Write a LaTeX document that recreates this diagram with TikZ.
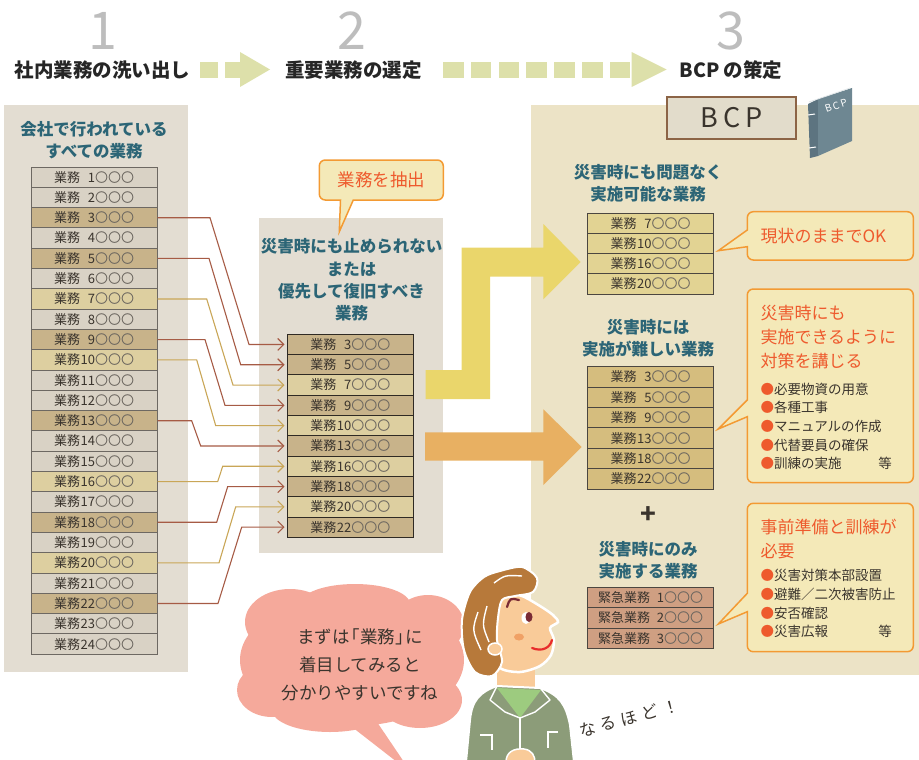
\documentclass[tikz,border=0pt]{standalone}
\usepackage{fontspec}
\setmainfont{Noto Sans CJK JP}
\usetikzlibrary{arrows.meta}

\definecolor{panelgray}{HTML}{E3DDD2}
\definecolor{panelcream}{HTML}{ECE3C6}
\definecolor{rowgray}{HTML}{D9D2C5}
\definecolor{rowtan}{HTML}{C8B38A}
\definecolor{rowyellow}{HTML}{DDCFA0}
\definecolor{okfill}{HTML}{E2D393}
\definecolor{hardfill}{HTML}{D5BD7E}
\definecolor{urgentfill}{HTML}{CF9F82}
\definecolor{rowline}{HTML}{6D6862}
\definecolor{rowdark}{HTML}{2F2A24}
\definecolor{rowmid}{HTML}{4B4640}
\definecolor{rowtext}{HTML}{3A342D}
\definecolor{circgray}{HTML}{6A655E}
\definecolor{titleteal}{HTML}{2C6576}
\definecolor{noteline}{HTML}{F39A33}
\definecolor{notefill}{HTML}{F4E9B8}
\definecolor{notetext}{HTML}{EE5A2D}
\definecolor{bigyellow}{HTML}{EAD66B}
\definecolor{bigorange}{HTML}{E8B062}
\definecolor{hdarrow}{HTML}{DDE0AA}
\definecolor{numgray}{HTML}{BDBDBD}
\definecolor{linkred}{HTML}{A65B45}
\definecolor{linkyel}{HTML}{C9A657}
\definecolor{bubble}{HTML}{F5A99B}
\definecolor{bcpfill}{HTML}{E2DCCB}
\definecolor{bcpline}{HTML}{8C6446}
\definecolor{bookfront}{HTML}{6E8792}
\definecolor{bookside}{HTML}{5D7480}
\definecolor{hair}{HTML}{B7793A}
\definecolor{skin}{HTML}{F9CB99}
\definecolor{shirt}{HTML}{8C9C79}
\definecolor{collar}{HTML}{9DCB7F}
\definecolor{eyebrown}{HTML}{7A2B35}
\definecolor{cheek}{HTML}{F0A166}
\definecolor{mouthred}{HTML}{E82B2B}

\newcommand{\fsz}[2]{\fontsize{#1}{#2}\selectfont}
\newcommand{\gyomu}[1]{業務\makebox[15pt][r]{#1}\textcolor{circgray}{〇〇〇}}
\newcommand{\kinkyu}[1]{緊急業務\makebox[14pt][r]{#1}\textcolor{circgray}{〇〇〇}}
\newcommand{\bul}{\textcolor{notetext}{●}}

\begin{document}
\begin{tikzpicture}[x=1pt,y=-1pt,
  row/.style={draw=rowline, line width=1pt, minimum width=126pt, minimum height=20.3pt,
    inner sep=0pt, text=rowtext, font=\fsz{13}{13}},
  plain/.style={row, fill=rowgray},
  hard/.style={row, fill=rowtan},
  easy/.style={row, fill=rowyellow},
  head/.style={font=\fsz{16.5}{22.3}\bfseries, text=titleteal, align=center},
  stage/.style={font=\fsz{19.5}{20}\bfseries, text=black!85},
  num/.style={font=\fsz{52}{52}, text=numgray},
  link/.style={line width=1.1pt, -{Straight Barb[length=6pt,width=12pt]}, shorten >=2.3pt},
  callout/.style={fill=notefill, draw=noteline, line width=1.5pt},
  note/.style={font=\fsz{17}{24}, text=notetext, align=left, anchor=west},
  item/.style={font=\fsz{13.5}{18.6}, text=rowtext, align=left, anchor=west}
]
\useasboundingbox (0,0) rectangle (919,760);

% panels
\fill[panelgray] (4,105) rectangle (188,672);
\fill[panelgray] (259,218.3) rectangle (443.3,553.3);
\fill[panelcream] (530.7,105) rectangle (919,675);

% steps along the top
\node[num] (n1) at (103,31) {1};
\node[num] (n2) at (352,31) {2};
\node[num] (n3) at (731,31) {3};
\node[stage] (st1) at (102.5,70) {社内業務の洗い出し};
\node[stage] (st2) at (353.5,70) {重要業務の選定};
\node[stage] (st3) at (731,70) {BCP の策定};
\foreach \x in {200,225}
  \fill[hdarrow] (\x,62) rectangle ++(18,16);
\fill[hdarrow] (240,52) -- (270,69.5) -- (240,87) -- cycle;
\foreach \i in {0,...,6}
  \fill[hdarrow] ({443+27.8*\i},62) rectangle ++(20.5,16);
\fill[hdarrow] (631.7,52) -- (666.7,69.5) -- (631.7,87) -- cycle;

% all tasks
\node[head] (allt) at (94,140) {会社で行われている\\すべての業務};
\foreach \n/\k in {1/plain,2/plain,3/hard,4/plain,5/hard,6/plain,7/easy,8/plain,
    9/hard,10/easy,11/plain,12/plain,13/hard,14/plain,15/plain,16/easy,17/plain,
    18/hard,19/plain,20/easy,21/plain,22/hard,23/plain,24/plain}
  \node[\k] (w\n) at (94,{177.15+20.3*(\n-1)}) {\gyomu{\n}};

% selected tasks
\node[head] (selt) at (351.5,280) {災害時にも止められない\\または\\優先して復旧すべき\\業務};
\foreach \n/\k [count=\i from 0] in {3/hard,5/hard,7/easy,9/hard,10/easy,13/hard,
    16/easy,18/hard,20/easy,22/hard}
  \node[\k, draw=rowdark] (s\n) at (350.3,{344.45+20.3*\i}) {\gyomu{\n}};

\foreach \n/\a/\b/\c in {3/210/249/linkred, 5/209/240.7/linkred, 7/206.7/233/linkyel,
    9/205/225/linkred, 10/196.7/215.7/linkyel, 13/191.7/200.7/linkred,
    16/217.7/222.7/linkyel, 18/216.7/227.7/linkred, 20/219/235.7/linkyel,
    22/218/241.7/linkred}
  \draw[link,\c] (w\n.east) -- (w\n.east -| \a,0) -- (s\n.west -| \b,0) -- (s\n.west);

% callout: pick out
\filldraw[callout] (353.3,200) -- (339.3,231.7) -- (340.5,200)
  {[rounded corners=6pt] -- (319.3,200) -- (319.3,160) -- (443.3,160) -- (443.3,200)} -- cycle;
\node[font=\fsz{17.5}{18}, text=notetext] (pick) at (381.3,180) {業務を抽出};

% big arrows
\fill[bigyellow] (425.7,370) -- (461.7,370) -- (461.7,247.7) -- (543.3,247.7)
  -- (543.3,224) -- (580.7,262) -- (543.3,299.3) -- (543.3,276.7) -- (490,276.7)
  -- (490,399) -- (425.7,399) -- cycle;
\fill[bigorange] (425,432.3) -- (543.3,432.3) -- (543.3,409.3) -- (581.7,447)
  -- (543.3,485) -- (543.3,460.7) -- (425,460.7) -- cycle;

% BCP label and book
\node[draw=bcpline, line width=2pt, fill=bcpfill, minimum width=129pt, minimum height=42.6pt,
  font=\fsz{27}{27}, text=rowtext] (bcp) at (731.3,118) {B\hspace{5pt}C\hspace{5pt}P};
\fill[bookside] (808,104) -- (818,99) -- (818,156) -- (810,158) -- cycle;
\fill[bookfront] (818,99) -- (852,88) -- (852,141) -- (818,156) -- cycle;
\draw[white!80!bookfront, line width=0.8pt] (809,102) -- (850,88);
\draw[white, line width=1pt] (808,115) -- (815,114) (809,148) -- (816,147);
\node[rotate=18, font=\fsz{10}{10}, text=white] (booktitle) at (836,106) {B\,C\,P};

% can run as usual
\node[head] (okt) at (648,183) {災害時にも問題なく\\実施可能な業務};
\foreach \n [count=\i from 0] in {7,10,16,20}
  \node[row, fill=okfill, draw=rowmid, minimum height=20.2pt] (a\n) at (650.5,{223.4+20.2*\i}) {\gyomu{\n}};
\filldraw[callout] (747.3,246.7) -- (718.3,250.7) -- (747.3,230)
  {[rounded corners=6pt] -- (747.3,211.7) -- (913.3,211.7) -- (913.3,260) -- (747.3,260)} -- cycle;
\node[note] (okn) at (757,236) {現状のままでOK};

% hard to run
\node[head] (hardt) at (648,338) {災害時には\\実施が難しい業務};
\foreach \n [count=\i from 0] in {3,5,9,13,18,22}
  \node[row, fill=hardfill, draw=rowmid, minimum height=20.4pt] (b\n) at (650.5,{376.9+20.4*\i}) {\gyomu{\n}};
\filldraw[callout] (747.3,416.7) -- (718.3,429) -- (747.3,400)
  {[rounded corners=6pt] -- (747.3,289) -- (913.3,289) -- (913.3,482.7) -- (747.3,482.7)} -- cycle;
\node[note] (hardn) at (757,337.5) {災害時にも\\実施できるように\\対策を講じる};
\node[item] (hardi) at (757,426.3) {\bul 必要物資の用意\\\bul 各種工事\\\bul マニュアルの作成\\\bul 代替要員の確保\\\bul 訓練の実施};
\node[font=\fsz{13.5}{14}, text=rowtext] (hardetc) at (885,463.3) {等};

\node[font=\fsz{26}{26}\bfseries, text=rowtext] (plus) at (648.3,515) {+};

% only in disaster
\node[head] (urgt) at (648,560) {災害時にのみ\\実施する業務};
\foreach \n [count=\i from 0] in {1,2,3}
  \node[row, fill=urgentfill, draw=rowmid, minimum height=20.2pt] (c\n) at (650.5,{597.8+20.2*\i}) {\kinkyu{\n}};
\filldraw[callout] (747.3,611.7) -- (718.3,624) -- (747.3,593.3)
  {[rounded corners=6pt] -- (747.3,503.3) -- (913.3,503.3) -- (913.3,651.7) -- (747.3,651.7)} -- cycle;
\node[note, font=\fsz{17}{23.4}] (urgn) at (757,539) {事前準備と訓練が\\必要};
\node[item] (urgi) at (757,603.6) {\bul 災害対策本部設置\\\bul 避難／二次被害防止\\\bul 安否確認\\\bul 災害広報};
\node[font=\fsz{13.5}{14}, text=rowtext] (urgetc) at (885,631.7) {等};

% speech bubble
\fill[bubble] (353.3,728) -- (397,762) -- (404,762) -- (377,722) -- cycle;
\fill[bubble] (352,660) ellipse [x radius=112, y radius=66];
\fill[bubble] (290,622) ellipse [x radius=45, y radius=33];
\fill[bubble] (355,604) ellipse [x radius=55, y radius=20];
\fill[bubble] (428,625) ellipse [x radius=36, y radius=30];
\fill[bubble] (272,690) ellipse [x radius=35, y radius=27];
\fill[bubble] (330,710) ellipse [x radius=58, y radius=22];
\fill[bubble] (420,700) ellipse [x radius=42, y radius=28];
\node[font=\fsz{17.5}{28.3}, text=rowtext, align=center] (talk) at (360,665)
  {まずは\kern-.4em「業務」\kern-.4em に\\着目してみると\\分かりやすいですね};

% person
\fill[skin] (497,655) rectangle (535,692);
\filldraw[shirt, draw=white, line width=2pt] (466,762) -- (470,720)
  .. controls (472,700) and (480,692) .. (497,686) -- (540,688)
  .. controls (560,695) and (566,705) .. (570,725) -- (574,762) -- cycle;
\fill[collar] (497,688) -- (541,690) -- (520,718) -- cycle;
\draw[white, line width=1.4pt, line join=round] (497,686) -- (490,700) -- (505,712) -- (520,718)
  -- (535,712) -- (550,700) -- (541,689);
\draw[white, line width=1.4pt] (520,718) -- (520,762) (480,735) -- (492,735) -- (492,750)
  (558,732) -- (548,732) -- (548,748);
\filldraw[skin, draw=white, line width=1.5pt] (506,762) .. controls (506,752) and (514,748) .. (524,749)
  .. controls (532,750) and (535,756) .. (535,762);
\filldraw[skin, draw=white, line width=2.5pt] plot[smooth cycle] coordinates {(505,593) (522,596)
  (540,606) (553,615) (558,622) (550,628) (554,640) (551,655) (540,666) (520,672) (500,668)
  (490,650) (492,620) (498,600)};
\filldraw[hair, draw=white, line width=2pt] plot[smooth cycle] coordinates {(500,571) (522,567)
  (537,578) (533,592) (515,596) (502,600) (498,618) (497,640) (502,662) (492,676) (475,672)
  (464,650) (462,620) (470,592) (484,577)};
\draw[white, line width=1.4pt] (478,612) .. controls (472,630) .. (481,650)
  (487,606) .. controls (482,625) .. (489,642) (494,583) .. controls (505,575) .. (522,576);
\filldraw[skin, draw=white, line width=1.5pt] (495,649) ellipse [x radius=7, y radius=6];
\fill[white] (526,618) ellipse [x radius=4.5, y radius=6];
\fill[eyebrown] (529,617) ellipse [x radius=3.5, y radius=5];
\draw[eyebrown, line width=2.2pt, line cap=round] (507,607) .. controls (510,598) .. (519,600);
\fill[cheek] (519,637) ellipse [x radius=5, y radius=3.5];
\draw[mouthred, line width=2.2pt, line cap=round] (532,648) .. controls (542,652) and (550,648) .. (552,640);

\node[rotate=15, font=\fsz{16.5}{16.5}\addfontfeature{LetterSpace=30}, text=rowtext] (naru) at (629,718) {なるほど！};
\end{tikzpicture}
\end{document}
